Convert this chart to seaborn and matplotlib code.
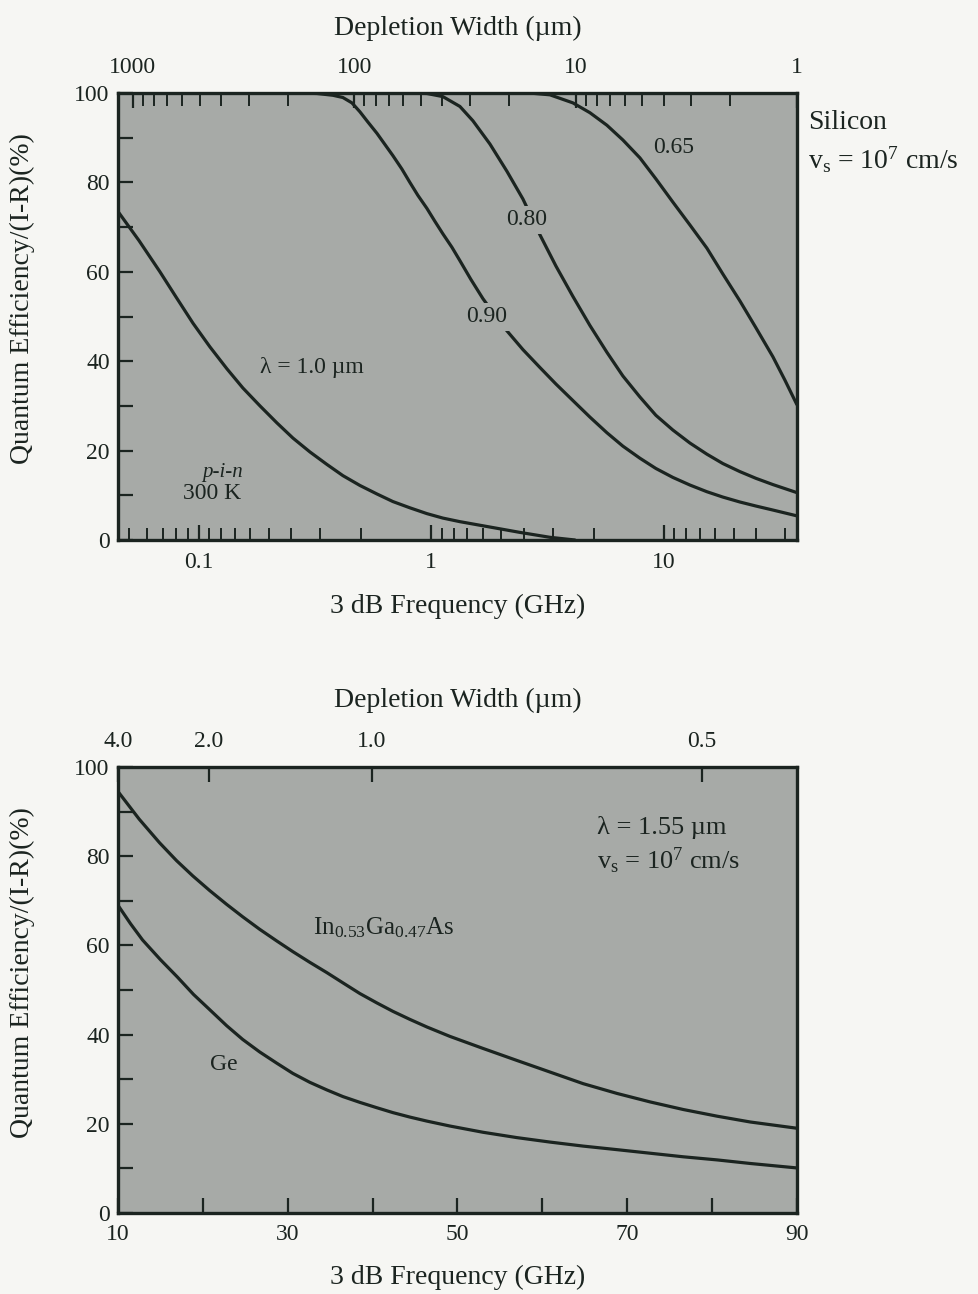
import numpy as np
import pandas as pd
import matplotlib
matplotlib.use("Agg")
import matplotlib.pyplot as plt
from matplotlib.ticker import FixedLocator, NullFormatter, FixedFormatter
import seaborn as sns

# ---------------- data ----------------
# Top panel: Silicon p-i-n, 300 K  (x = 3 dB frequency in GHz, y = QE/(1-R) in %)
si_100_f = [0.045, 0.0554, 0.0682, 0.0799, 0.0946, 0.1119, 0.1324, 0.1551, 0.1837, 0.2172,
            0.2546, 0.3012, 0.3565, 0.4175, 0.4943, 0.5848, 0.6850, 0.8107, 0.9594, 1.124,
            1.3305, 1.791, 2.410, 3.245, 4.155]
si_100_qe = [73.5, 67.0, 60.0, 54.4, 48.5, 43.2, 38.3, 34.0, 30.0, 26.2,
             22.8, 19.7, 16.9, 14.4, 12.2, 10.3, 8.6, 7.2, 5.9, 4.9,
             4.1, 2.9, 1.7, 0.6, 0.0]

si_090_f = [0.2728, 0.3228, 0.3781, 0.4175, 0.4566, 0.4943, 0.5351, 0.5848, 0.6329, 0.6850,
            0.7489, 0.8107, 0.8777, 0.9594, 1.0385, 1.1240, 1.2291, 1.3305, 1.4834, 1.6710,
            1.8816, 2.1193, 2.4832, 2.9384, 3.4435, 4.0738, 4.8217, 5.7047, 6.6834, 7.9105,
            9.2683, 10.966, 12.978, 15.36, 17.997, 21.296, 24.953, 29.529, 37.45]
si_090_qe = [100.0, 99.9, 99.5, 99.0, 97.8, 95.8, 93.5, 91.0, 88.5, 86.0,
             83.0, 80.0, 77.1, 74.2, 71.3, 68.5, 65.5, 62.5, 58.3, 54.0,
             50.3, 46.8, 42.6, 38.6, 34.9, 31.2, 27.5, 24.0, 21.0, 18.3,
             16.0, 14.0, 12.3, 10.8, 9.6, 8.5, 7.6, 6.7, 5.4]

si_080_f = [0.8107, 0.9594, 1.124, 1.3305, 1.513, 1.791, 2.1193, 2.4832, 2.9384, 3.4435,
            4.0738, 4.8217, 5.7047, 6.6834, 7.9105, 9.2683, 10.966, 12.978, 15.36, 17.997,
            21.296, 24.953, 29.529, 37.45]
si_080_qe = [100.0, 99.9, 99.2, 97.0, 93.8, 88.6, 82.5, 76.3, 68.3, 61.3,
             54.5, 48.0, 42.0, 36.7, 32.0, 27.9, 24.6, 21.7, 19.2, 17.1,
             15.3, 13.8, 12.4, 10.6]

si_065_f = [2.661, 3.245, 4.074, 4.822, 5.705, 6.683, 7.911, 9.268, 10.966, 12.978,
            15.360, 17.997, 21.296, 24.953, 29.529, 33.24, 37.45]
si_065_qe = [100.0, 99.6, 97.8, 95.6, 92.8, 89.5, 85.5, 80.8, 75.6, 70.5,
             65.3, 59.5, 53.5, 47.5, 41.0, 35.8, 30.3]

# Bottom panel: lambda = 1.55 um
ingaas_f = [10, 12.5, 14.9, 16.9, 18.8, 20.8, 22.8, 24.7, 26.7, 28.7, 30.6, 32.6, 34.6, 36.5,
            38.5, 40.5, 42.4, 44.4, 46.4, 49.1, 53.0, 57.0, 60.9, 64.8, 68.8, 72.7, 76.6,
            80.6, 84.5, 90]
ingaas_qe = [94.5, 88.3, 83.0, 79.0, 75.6, 72.3, 69.2, 66.4, 63.6, 61.0, 58.6, 56.2, 53.9, 51.6,
             49.2, 47.1, 45.2, 43.4, 41.7, 39.6, 36.9, 34.2, 31.6, 29.0, 26.8, 24.9, 23.2,
             21.7, 20.4, 19.0]

ge_f = [10, 11.5, 12.9, 15.0, 17.0, 18.9, 20.8, 22.8, 24.7, 26.7, 28.7, 30.6, 32.6, 34.6,
        36.5, 38.5, 40.5, 42.4, 44.4, 46.4, 49.1, 53.0, 57.0, 60.9, 64.8, 68.8, 72.7, 76.6,
        80.6, 84.5, 90]
ge_qe = [69.0, 64.8, 61.2, 56.8, 52.9, 49.0, 45.6, 42.0, 38.9, 36.1, 33.6, 31.3, 29.3, 27.6,
         26.1, 24.8, 23.6, 22.5, 21.5, 20.6, 19.5, 18.1, 16.9, 15.9, 15.0, 14.2, 13.4, 12.6,
         11.9, 11.1, 10.1]

# axis ticks
top_freq_ticks = [0.1, 1, 10]
top_freq_labels = ["0.1", "1", "10"]
top_freq_minor = [0.05, 0.06, 0.07, 0.08, 0.09,
                  0.111, 0.125, 0.143, 0.167, 0.2, 0.25, 0.333, 0.5,
                  1.11, 1.25, 1.43, 1.67, 2.0, 2.5, 3.33, 5.0,
                  11.1, 12.5, 14.3, 16.7, 20.0, 25.0, 33.3]
top_width_ticks = [1000, 100, 10, 1]
top_width_labels = ["1000", "100", "10", "1"]
top_width_minor = [900, 800, 700, 600, 500, 400, 300, 200,
                   90, 80, 70, 60, 50, 40, 30, 20,
                   9, 8, 7, 6, 5, 4, 3, 2]
bot_freq_ticks = [10, 30, 50, 70, 90]
bot_freq_minor = [20, 40, 60, 80]
bot_width_labels = ["4.0", "2.0", "1.0", "0.5"]
bot_width_pos_ghz = [10, 20.7, 39.9, 78.8]
qe_ticks = [0, 20, 40, 60, 80, 100]
qe_minor = [10, 30, 50, 70, 90]

# ---------------- style ----------------
sns.set_style("ticks")
plt.rcParams["font.family"] = ["Liberation Serif", "DejaVu Serif"]
plt.rcParams["mathtext.fontset"] = "custom"
plt.rcParams["mathtext.rm"] = "Liberation Serif"
plt.rcParams["mathtext.it"] = "Liberation Serif:italic"

INK = "#1b2420"
BG = "#a7aaa7"
PAPER = "#f6f6f3"
LW = 2.3

fig = plt.figure(figsize=(9.79, 12.94), dpi=100, facecolor=PAPER)

def style_axes(ax):
    ax.set_facecolor(BG)
    for s in ax.spines.values():
        s.set_color(INK)
        s.set_linewidth(2.4)
        s.set_visible(True)

def line(ax, xs, ys):
    df = pd.DataFrame({"x": xs, "y": ys})
    sns.lineplot(data=df, x="x", y="y", ax=ax, color=INK, linewidth=LW, sort=True, estimator=None)

# ---------------- top panel ----------------
ax1 = fig.add_axes([0.1205, 0.5827, 0.6936, 0.3454])
style_axes(ax1)
ax1.set_xscale("log")
for xs, ys in [(si_100_f, si_100_qe), (si_090_f, si_090_qe), (si_080_f, si_080_qe), (si_065_f, si_065_qe)]:
    line(ax1, xs, ys)
ax1.set_xlim(0.045, 37.5)
ax1.set_ylim(0, 100)
ax1.xaxis.set_major_locator(FixedLocator(top_freq_ticks))
ax1.xaxis.set_major_formatter(FixedFormatter(top_freq_labels))
ax1.xaxis.set_minor_locator(FixedLocator(top_freq_minor))
ax1.xaxis.set_minor_formatter(NullFormatter())
ax1.yaxis.set_major_locator(FixedLocator(qe_ticks))
ax1.yaxis.set_minor_locator(FixedLocator(qe_minor))
ax1.tick_params(axis="x", which="both", direction="in", bottom=True, top=False, colors=INK, labelsize=17, pad=9)
ax1.tick_params(axis="x", which="major", length=11, width=1.6)
ax1.tick_params(axis="x", which="minor", length=9, width=1.4)
ax1.tick_params(axis="y", which="both", direction="in", left=True, right=False, colors=INK, labelsize=17, pad=6, length=11, width=1.6)
ax1.set_xlabel("3 dB Frequency (GHz)", fontsize=20, color=INK)
ax1.set_ylabel("Quantum Efficiency/(I-R)(%)", fontsize=20, color=INK)
ax1.xaxis.set_label_coords(0.5, -0.148)
ax1.xaxis.label.set_va("center")
ax1.yaxis.set_label_coords(-0.141, 0.54)
ax1.yaxis.label.set_va("center")

ax1t = ax1.twiny()
ax1t.set_xscale("log")
ax1t.set_xlim(1169, 1)
ax1t.xaxis.set_major_locator(FixedLocator(top_width_ticks))
ax1t.xaxis.set_major_formatter(FixedFormatter(top_width_labels))
ax1t.xaxis.set_minor_locator(FixedLocator(top_width_minor))
ax1t.xaxis.set_minor_formatter(NullFormatter())
ax1t.tick_params(axis="x", which="both", direction="in", colors=INK, labelsize=17, pad=11)
ax1t.tick_params(axis="x", which="major", length=11, width=1.6)
ax1t.tick_params(axis="x", which="minor", length=9, width=1.4)
for s in ax1t.spines.values():
    s.set_visible(False)
ax1t.set_xlabel("Depletion Width (\u00b5m)", fontsize=20, color=INK)
ax1t.xaxis.set_label_coords(0.5, 1.145)
ax1t.xaxis.label.set_va("center")

lab_box = dict(boxstyle="square,pad=0.15", facecolor=BG, edgecolor="none")
ax1.text(1.74, 49.9, "0.90", fontsize=17, color=INK, ha="center", va="center", bbox=lab_box, zorder=5)
ax1.text(2.58, 71.6, "0.80", fontsize=17, color=INK, ha="center", va="center", bbox=lab_box, zorder=5)
ax1.text(11.07, 87.9, "0.65", fontsize=17, color=INK, ha="center", va="center", zorder=5)
ax1.text(0.184, 38.5, "\u03bb = 1.0 \u00b5m", fontsize=17, color=INK, ha="left", va="center", zorder=5)
ax1.text(0.127, 15.2, "p-i-n", fontsize=15, style="italic", color=INK, ha="center", va="center", zorder=5)
ax1.text(0.114, 10.5, "300 K", fontsize=17, color=INK, ha="center", va="center", zorder=5)

fig.text(0.825, 0.9057, "Silicon", fontsize=20, color=INK, ha="left", va="center")
fig.text(0.825, 0.8764, r"v$_\mathrm{s}$ = 10$^7$ cm/s", fontsize=20, color=INK, ha="left", va="center")

# ---------------- bottom panel ----------------
ax2 = fig.add_axes([0.1205, 0.0626, 0.6936, 0.3447])
style_axes(ax2)
line(ax2, ingaas_f, ingaas_qe)
line(ax2, ge_f, ge_qe)
ax2.set_xlim(10, 90)
ax2.set_ylim(0, 100)
ax2.xaxis.set_major_locator(FixedLocator(bot_freq_ticks))
ax2.xaxis.set_minor_locator(FixedLocator(bot_freq_minor))
ax2.yaxis.set_major_locator(FixedLocator(qe_ticks))
ax2.yaxis.set_minor_locator(FixedLocator(qe_minor))
ax2.tick_params(axis="x", which="both", direction="in", bottom=True, top=False, colors=INK, labelsize=17, pad=8, length=11, width=1.6)
ax2.tick_params(axis="y", which="both", direction="in", left=True, right=False, colors=INK, labelsize=17, pad=6, length=11, width=1.6)
ax2.set_xlabel("3 dB Frequency (GHz)", fontsize=20, color=INK)
ax2.set_ylabel("Quantum Efficiency/(I-R)(%)", fontsize=20, color=INK)
ax2.xaxis.set_label_coords(0.5, -0.1435)
ax2.xaxis.label.set_va("center")
ax2.yaxis.set_label_coords(-0.141, 0.54)
ax2.yaxis.label.set_va("center")

ax2t = ax2.twiny()
ax2t.set_xlim(10, 90)
ax2t.xaxis.set_major_locator(FixedLocator(bot_width_pos_ghz))
ax2t.xaxis.set_major_formatter(FixedFormatter(bot_width_labels))
ax2t.tick_params(axis="x", which="major", direction="in", colors=INK, labelsize=17, pad=11, length=11, width=1.6)
for s in ax2t.spines.values():
    s.set_visible(False)
ax2t.set_xlabel("Depletion Width (\u00b5m)", fontsize=20, color=INK)
ax2t.xaxis.set_label_coords(0.5, 1.150)
ax2t.xaxis.label.set_va("center")

ax2.text(33.0, 64.0, r"In$_{0.53}$Ga$_{0.47}$As", fontsize=18, color=INK, ha="left", va="center", zorder=5)
ax2.text(22.5, 33.2, "Ge", fontsize=17, color=INK, ha="center", va="center", zorder=5)
ax2.text(66.4, 86.5, "\u03bb = 1.55 \u00b5m", fontsize=19, color=INK, ha="left", va="center", zorder=5)
ax2.text(66.4, 79.0, r"v$_\mathrm{s}$ = 10$^7$ cm/s", fontsize=19, color=INK, ha="left", va="center", zorder=5)

fig.savefig("out.png", dpi=100, facecolor=PAPER)
